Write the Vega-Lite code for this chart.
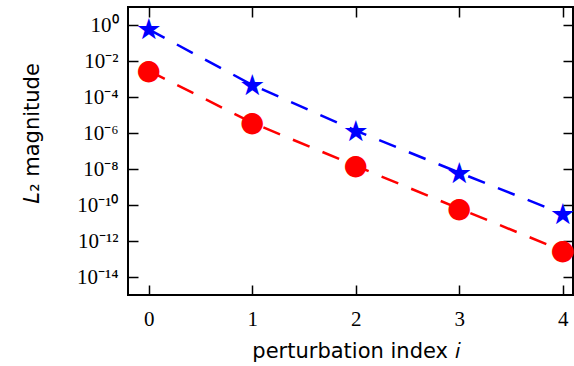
{
  "$schema": "https://vega.github.io/schema/vega-lite/v6.json",
  "width": 445,
  "height": 288,
  "autosize": {"type": "none"},
  "padding": {"left": 128, "top": 7, "right": 1, "bottom": 71},
  "config": {
    "view": {"stroke": "black", "strokeWidth": 2},
    "axis": {"domain": false, "grid": false, "tickColor": "black", "tickWidth": 1.5, "labelColor": "black", "titleColor": "black"}
  },
  "data": {
    "values": [
      {"i": 0, "series": "stars", "value": 0.57},
      {"i": 1, "series": "stars", "value": 0.00047},
      {"i": 2, "series": "stars", "value": 0.00000135},
      {"i": 3, "series": "stars", "value": 6.3e-9},
      {"i": 4, "series": "stars", "value": 3.2e-11},
      {"i": 0, "series": "circles", "value": 0.0029},
      {"i": 1, "series": "circles", "value": 0.0000037},
      {"i": 2, "series": "circles", "value": 1.5e-8},
      {"i": 3, "series": "circles", "value": 6.3e-11},
      {"i": 4, "series": "circles", "value": 2.9e-13}
    ]
  },
  "layer": [
    {
      "transform": [{"filter": {"field": "series", "equal": "stars"}}],
      "mark": {"type": "line", "color": "#0000ff", "strokeDash": [18, 14], "strokeWidth": 2.5},
      "encoding": {
        "x": {"field": "i", "type": "quantitative", "scale": {"domain": [-0.2, 4.1], "nice": false, "zero": false}, "axis": {"orient": "bottom", "values": [0, 1, 2, 3, 4], "format": "d", "tickSize": -10, "labelFont": "Liberation Serif", "labelFontSize": 21, "labelPadding": 23, "title": "perturbation index 𝑖", "titleFont": "DejaVu Sans", "titleFontSize": 21, "titleFontWeight": "normal", "titleX": 228, "titleY": 62, "titleBaseline": "alphabetic"}},
        "y": {"field": "value", "type": "quantitative", "scale": {"type": "log", "domain": [1e-15, 10], "nice": false}, "axis": {"orient": "left", "values": [1, 0.01, 0.0001, 0.000001, 1e-8, 1e-10, 1e-12, 1e-14], "labelExpr": "datum.value > 0.1 ? '10⁰' : datum.value > 0.001 ? '10⁻²' : datum.value > 0.00001 ? '10⁻⁴' : datum.value > 1e-7 ? '10⁻⁶' : datum.value > 1e-9 ? '10⁻⁸' : datum.value > 1e-11 ? '10⁻¹⁰' : datum.value > 1e-13 ? '10⁻¹²' : '10⁻¹⁴'", "tickSize": -10, "labelFont": "Liberation Serif", "labelFontSize": 21, "labelPadding": 20, "title": "𝐿₂ magnitude", "titleFont": "DejaVu Sans", "titleFontSize": 21, "titleFontWeight": "normal", "titleX": -90, "titleY": 126, "titleBaseline": "alphabetic"}}
      }
    },
    {
      "transform": [{"filter": {"field": "series", "equal": "circles"}}],
      "mark": {"type": "line", "color": "#ff0000", "strokeDash": [18, 14], "strokeWidth": 2.5},
      "encoding": {
        "x": {"field": "i", "type": "quantitative", "axis": null},
        "y": {"field": "value", "type": "quantitative", "axis": null}
      }
    },
    {
      "transform": [{"filter": {"field": "series", "equal": "stars"}}],
      "mark": {"type": "text", "text": "★", "font": "DejaVu Sans", "fontSize": 29, "color": "#0000ff", "align": "center", "baseline": "middle", "dy": 1},
      "encoding": {
        "x": {"field": "i", "type": "quantitative", "axis": {"orient": "top", "values": [0, 1, 2, 3, 4], "labels": false, "title": null, "tickSize": -10}},
        "y": {"field": "value", "type": "quantitative", "axis": {"orient": "right", "values": [1, 0.01, 0.0001, 0.000001, 1e-8, 1e-10, 1e-12, 1e-14], "labels": false, "title": null, "tickSize": -10}}
      }
    },
    {
      "transform": [{"filter": {"field": "series", "equal": "circles"}}],
      "mark": {"type": "text", "text": "●", "font": "DejaVu Sans", "fontSize": 28, "color": "#ff0000", "align": "center", "baseline": "middle"},
      "encoding": {
        "x": {"field": "i", "type": "quantitative", "axis": null},
        "y": {"field": "value", "type": "quantitative", "axis": null}
      }
    }
  ],
  "resolve": {"axis": {"x": "independent", "y": "independent"}}
}
